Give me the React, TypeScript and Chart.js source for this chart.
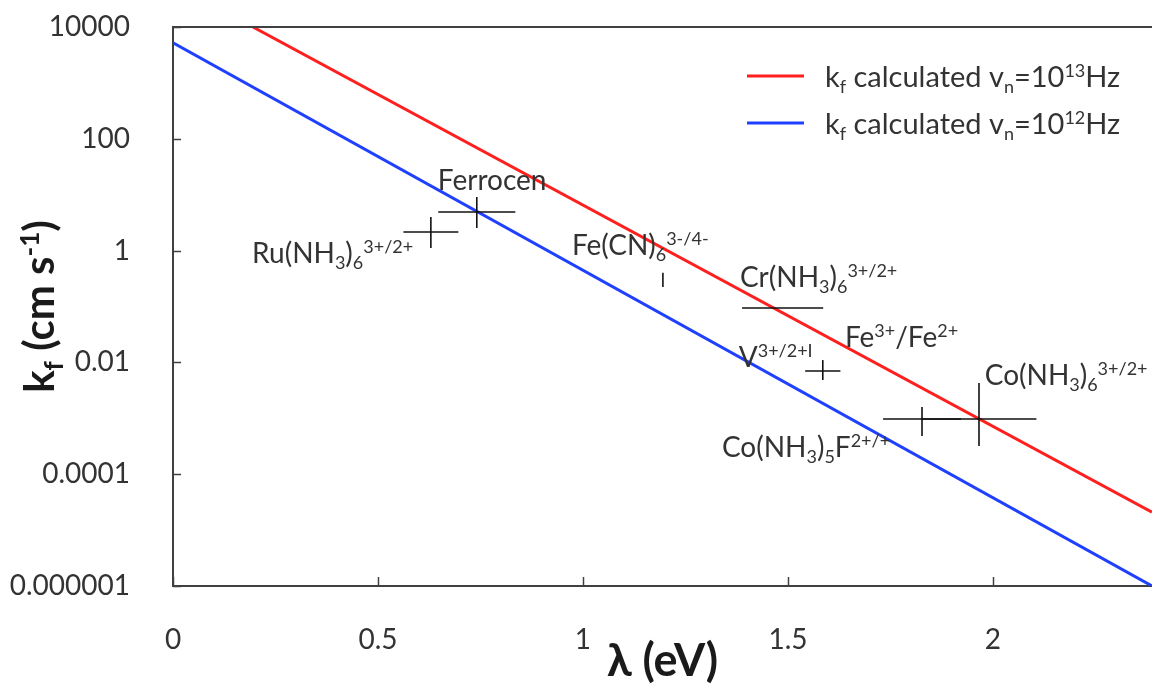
import React, { useEffect, useRef } from "react";
import { Chart, registerables } from "chart.js";

Chart.register(...registerables);

// ---- Data ----
const redLambda = [0.195, 2.388];
const redKf = [10000, 2.1e-5];
const blueLambda = [0, 2.388];
const blueKf = [5200, 1e-6];

const compounds = ["Ru(NH3)6", "Ferrocene", "Fe(CN)6", "Cr(NH3)6", "V", "Co(NH3)5F", "Co(NH3)6"];
const lambdaValues = [0.629, 0.741, 1.195, 1.487, 1.585, 1.827, 1.966];
const kfValues = [2.15, 4.9, 0.3, 0.094, 0.007, 0.00097, 0.00097];
const lambdaErr = [0.067, 0.094, null, 0.099, 0.043, 0.095, 0.14];
const kfLow = [1.11, 2.54, 0.223, null, 0.00484, 0.00048, 0.00032];
const kfHigh = [3.99, 9.1, 0.4, null, 0.011, 0.00159, 0.00428];

const pointLabels = [
  "Ferrocen",
  "Ru(NH_{3})_{6}^{3+/2+}",
  "Fe(CN)_{6}^{3-/4-}",
  "Cr(NH_{3})_{6}^{3+/2+}",
  "Fe^{3+}/Fe^{2+}",
  "V^{3+/2+I}",
  "Co(NH_{3})_{5}F^{2+/+}",
  "Co(NH_{3})_{6}^{3+/2+}",
];
const labelLambda = [0.646, 0.193, 0.973, 1.383, 1.639, 1.38, 1.339, 1.98];
const labelKf = [12.1, 0.6, 0.834, 0.223, 0.0188, 0.00828, 0.000203, 0.00394];

const legendLabels = ["k_{f} calculated v_{n}=10^{13}Hz", "k_{f} calculated v_{n}=10^{12}Hz"];

const xTicks = [0, 0.5, 1, 1.5, 2];
const xTickLabels = ["0", "0.5", "1", "1.5", "2"];
const yTicks = [1e-6, 1e-4, 1e-2, 1, 100, 10000];
const yTickLabels = ["0.000001", "0.0001", "0.01", "1", "100", "10000"];

// ---- Styles ----
const FAMILY = "Lato, 'Open Sans', 'DejaVu Sans', sans-serif";
const RED = "#ff1f1f";
const BLUE = "#2040ff";
const AXIS = "#404040";
const TEXT = "#333333";

type Seg = { t: string; k: 0 | 1 | 2 };
function parseRich(s: string): Seg[] {
  const out: Seg[] = [];
  let buf = "";
  let i = 0;
  while (i < s.length) {
    const c = s[i];
    if ((c === "_" || c === "^") && s[i + 1] === "{") {
      if (buf) {
        out.push({ t: buf, k: 0 });
        buf = "";
      }
      const end = s.indexOf("}", i + 2);
      out.push({ t: s.slice(i + 2, end), k: c === "_" ? 1 : 2 });
      i = end + 1;
    } else {
      buf += c;
      i++;
    }
  }
  if (buf) out.push({ t: buf, k: 0 });
  return out;
}
function segFont(seg: Seg, size: number, weight: string) {
  const sz = seg.k === 0 ? size : Math.round(size * 0.63);
  return `${weight} ${sz}px ${FAMILY}`;
}
function richWidth(ctx: CanvasRenderingContext2D, s: string, size: number, weight: string) {
  let w = 0;
  for (const seg of parseRich(s)) {
    ctx.font = segFont(seg, size, weight);
    w += ctx.measureText(seg.t).width;
  }
  return w;
}
function drawRich(
  ctx: CanvasRenderingContext2D,
  s: string,
  x: number,
  y: number,
  size: number,
  weight: string,
  color: string,
  align: "left" | "center" = "left"
) {
  ctx.save();
  ctx.fillStyle = color;
  ctx.textBaseline = "alphabetic";
  ctx.textAlign = "left";
  let cx = align === "center" ? x - richWidth(ctx, s, size, weight) / 2 : x;
  for (const seg of parseRich(s)) {
    ctx.font = segFont(seg, size, weight);
    const dy = seg.k === 1 ? size * 0.22 : seg.k === 2 ? -size * 0.36 : 0;
    ctx.fillText(seg.t, cx, y + dy);
    cx += ctx.measureText(seg.t).width;
  }
  ctx.restore();
}

const overlayPlugin = {
  id: "overlay",
  afterDatasetsDraw(chart: any) {
    const { ctx, chartArea } = chart;
    const xs = chart.scales.x;
    const ys = chart.scales.y;
    ctx.save();

    // top border
    ctx.strokeStyle = AXIS;
    ctx.lineWidth = 2;
    ctx.beginPath();
    ctx.moveTo(chartArea.left, chartArea.top);
    ctx.lineTo(chartArea.right, chartArea.top);
    ctx.stroke();

    // inward tick marks
    ctx.lineWidth = 1.5;
    for (const v of xTicks) {
      const px = Math.round(xs.getPixelForValue(v)) + 0.5;
      ctx.beginPath();
      ctx.moveTo(px, chartArea.bottom);
      ctx.lineTo(px, chartArea.bottom - 9);
      ctx.stroke();
    }
    for (const v of yTicks) {
      const py = Math.round(ys.getPixelForValue(v)) + 0.5;
      ctx.beginPath();
      ctx.moveTo(chartArea.left, py);
      ctx.lineTo(chartArea.left + 8, py);
      ctx.stroke();
    }

    // error bars
    ctx.strokeStyle = "#111111";
    ctx.lineWidth = 1.6;
    for (let i = 0; i < compounds.length; i++) {
      const px = xs.getPixelForValue(lambdaValues[i]);
      const py = ys.getPixelForValue(kfValues[i]);
      const e = lambdaErr[i];
      if (e != null) {
        ctx.beginPath();
        ctx.moveTo(xs.getPixelForValue(lambdaValues[i] - e), py);
        ctx.lineTo(xs.getPixelForValue(lambdaValues[i] + e), py);
        ctx.stroke();
      }
      const lo = kfLow[i];
      const hi = kfHigh[i];
      if (lo != null && hi != null) {
        ctx.beginPath();
        ctx.moveTo(px, ys.getPixelForValue(lo));
        ctx.lineTo(px, ys.getPixelForValue(hi));
        ctx.stroke();
      }
    }

    // point labels
    for (let i = 0; i < pointLabels.length; i++) {
      drawRich(ctx, pointLabels[i], xs.getPixelForValue(labelLambda[i]), ys.getPixelForValue(labelKf[i]), 28, "normal", TEXT);
    }

    // legend
    const legendColors = [RED, BLUE];
    const legendY = [76, 123];
    for (let i = 0; i < legendLabels.length; i++) {
      ctx.strokeStyle = legendColors[i];
      ctx.lineWidth = 3;
      ctx.beginPath();
      ctx.moveTo(747, legendY[i]);
      ctx.lineTo(804, legendY[i]);
      ctx.stroke();
      drawRich(ctx, legendLabels[i], 825, legendY[i] + 11, 29, "normal", TEXT);
    }

    // y axis title
    ctx.save();
    ctx.translate(54, (chartArea.top + chartArea.bottom) / 2);
    ctx.rotate(-Math.PI / 2);
    drawRich(ctx, "k_{f} (cm s^{-1})", 0, 0, 42, "bold", "#1a1a1a", "center");
    ctx.restore();

    ctx.restore();
  },
};

export default function App() {
  const canvasRef = useRef<HTMLCanvasElement | null>(null);

  useEffect(() => {
    document.body.style.margin = "0";
    const canvas = canvasRef.current;
    if (!canvas) return;
    const chart = new Chart(canvas, {
      type: "scatter",
      data: {
        datasets: [
          {
            label: "kf calculated vn=10^13Hz",
            data: redLambda.map((x, i) => ({ x, y: redKf[i] })),
            showLine: true,
            borderColor: RED,
            borderWidth: 3,
            pointRadius: 0,
          },
          {
            label: "kf calculated vn=10^12Hz",
            data: blueLambda.map((x, i) => ({ x, y: blueKf[i] })),
            showLine: true,
            borderColor: BLUE,
            borderWidth: 3,
            pointRadius: 0,
          },
          {
            label: "Experimental",
            data: lambdaValues.map((x, i) => ({ x, y: kfValues[i] })),
            pointRadius: 0,
            showLine: false,
          },
        ],
      },
      options: {
        responsive: false,
        animation: false,
        devicePixelRatio: 1,
        layout: { padding: { top: 27, right: 0, left: 0, bottom: 0 } },
        plugins: { legend: { display: false }, tooltip: { enabled: false } },
        scales: {
          x: {
            type: "linear",
            position: "bottom",
            min: 0,
            max: 2.388,
            afterBuildTicks: (s: any) => {
              s.ticks = xTicks.map((v) => ({ value: v }));
            },
            afterFit: (s: any) => {
              s.height = 102;
              s.paddingLeft = 0;
              s.paddingRight = 0;
            },
            grid: { display: false },
            border: { display: true, color: AXIS, width: 2 },
            ticks: {
              padding: 29,
              color: TEXT,
              autoSkip: false,
              maxRotation: 0,
              font: { family: FAMILY, size: 28 },
              callback: (_v: any, i: number) => xTickLabels[i],
            },
            title: {
              display: true,
              text: "λ (eV)",
              color: "#1a1a1a",
              font: { family: FAMILY, size: 45, weight: "bold" },
              padding: { top: 0, bottom: 0 },
            },
          },
          y: {
            type: "logarithmic",
            min: 1e-6,
            max: 1e4,
            afterBuildTicks: (s: any) => {
              s.ticks = yTicks.map((v) => ({ value: v }));
            },
            afterFit: (s: any) => {
              s.width = 173;
              s.paddingTop = 0;
              s.paddingBottom = 0;
            },
            grid: { display: false },
            border: { display: true, color: AXIS, width: 2 },
            ticks: {
              padding: 35,
              color: TEXT,
              autoSkip: false,
              font: { family: FAMILY, size: 28 },
              callback: (_v: any, i: number) => yTickLabels[i],
            },
          },
        },
      },
      plugins: [overlayPlugin],
    } as any);
    return () => chart.destroy();
  }, []);

  return (
    <div style={{ position: "fixed", left: 0, top: 0, width: 1152, height: 688, background: "#fff" }}>
      <canvas ref={canvasRef} width={1152} height={688} />
    </div>
  );
}
